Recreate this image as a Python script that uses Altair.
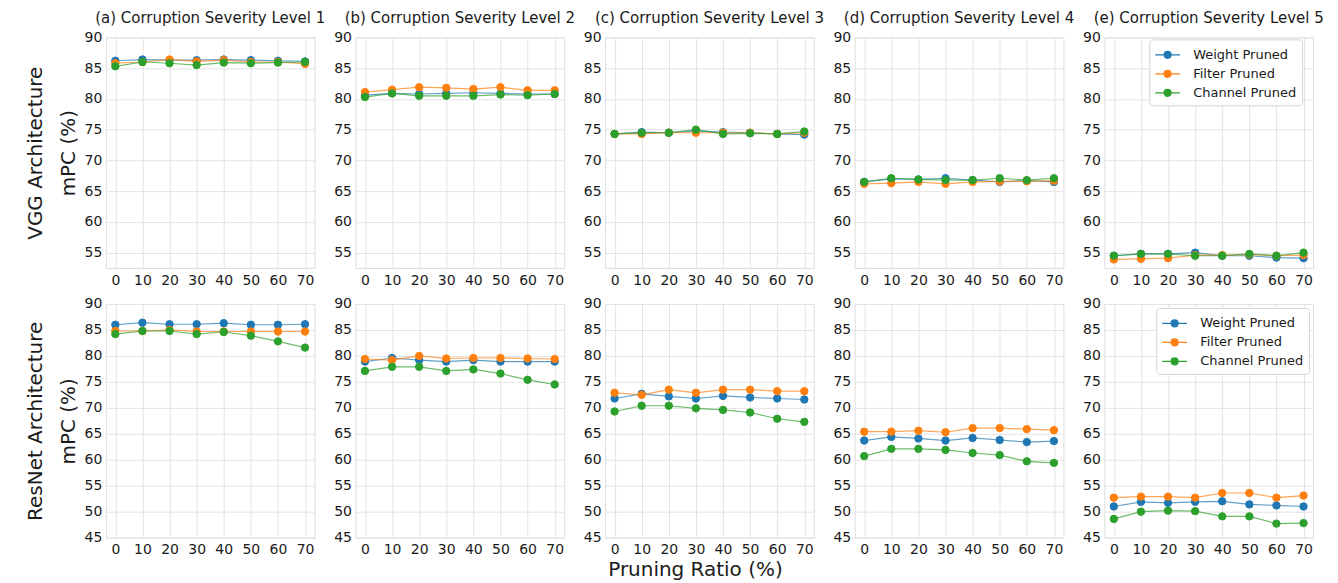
import altair as alt
import pandas as pd

ratios = [0, 10, 20, 30, 40, 50, 60, 70]
series = ["Weight Pruned", "Filter Pruned", "Channel Pruned"]
colors = ["#1f77b4", "#ff7f0e", "#2ca02c"]
levels = ["(a) Corruption Severity Level 1", "(b) Corruption Severity Level 2",
          "(c) Corruption Severity Level 3", "(d) Corruption Severity Level 4",
          "(e) Corruption Severity Level 5"]

# VGG architecture, one list per severity level
vgg_weight = [
    [86.2, 86.4, 86.3, 86.3, 86.4, 86.3, 86.2, 86.1],
    [80.6, 80.9, 80.8, 80.9, 81.0, 80.9, 80.8, 80.8],
    [74.3, 74.6, 74.5, 74.8, 74.6, 74.5, 74.3, 74.2],
    [66.5, 67.0, 66.9, 67.1, 66.8, 66.5, 66.7, 66.5],
    [54.5, 54.8, 54.8, 55.0, 54.5, 54.5, 54.2, 54.1],
]
vgg_filter = [
    [85.8, 86.0, 86.4, 86.1, 86.3, 86.0, 86.0, 85.7],
    [81.1, 81.5, 81.9, 81.8, 81.6, 81.9, 81.4, 81.4],
    [74.3, 74.3, 74.5, 74.5, 74.5, 74.5, 74.3, 74.5],
    [66.2, 66.3, 66.5, 66.2, 66.5, 66.6, 66.6, 66.7],
    [53.9, 54.0, 54.1, 54.6, 54.6, 54.7, 54.5, 54.6],
]
vgg_channel = [
    [85.3, 86.0, 85.8, 85.5, 85.9, 85.8, 85.9, 86.0],
    [80.3, 80.9, 80.5, 80.5, 80.5, 80.7, 80.6, 80.8],
    [74.3, 74.5, 74.5, 75.0, 74.3, 74.4, 74.3, 74.7],
    [66.5, 67.1, 66.9, 66.8, 66.8, 67.1, 66.8, 67.1],
    [54.5, 54.8, 54.8, 54.5, 54.5, 54.8, 54.5, 55.0],
]

# ResNet architecture, one list per severity level
resnet_weight = [
    [86.0, 86.4, 86.1, 86.1, 86.3, 86.0, 86.0, 86.1],
    [78.9, 79.6, 79.2, 78.9, 79.2, 78.9, 78.9, 78.9],
    [71.8, 72.7, 72.2, 71.8, 72.3, 72.0, 71.8, 71.6],
    [63.7, 64.4, 64.1, 63.7, 64.2, 63.8, 63.4, 63.6],
    [51.0, 51.9, 51.7, 51.9, 52.0, 51.4, 51.2, 51.0],
]
resnet_filter = [
    [84.8, 84.8, 85.0, 84.7, 84.7, 84.7, 84.7, 84.7],
    [79.4, 79.2, 80.0, 79.5, 79.6, 79.6, 79.5, 79.4],
    [72.9, 72.5, 73.5, 72.9, 73.5, 73.5, 73.2, 73.2],
    [65.4, 65.4, 65.6, 65.3, 66.1, 66.1, 65.9, 65.7],
    [52.7, 52.9, 52.9, 52.7, 53.6, 53.6, 52.7, 53.1],
]
resnet_channel = [
    [84.2, 84.8, 84.8, 84.2, 84.6, 83.9, 82.8, 81.6],
    [77.1, 77.9, 77.9, 77.1, 77.4, 76.6, 75.4, 74.5],
    [69.3, 70.4, 70.4, 69.9, 69.6, 69.1, 67.9, 67.3],
    [60.7, 62.1, 62.1, 61.9, 61.3, 60.9, 59.7, 59.4],
    [48.6, 50.0, 50.2, 50.1, 49.1, 49.1, 47.7, 47.8],
]

vgg_ticks = [55, 60, 65, 70, 75, 80, 85, 90]
resnet_ticks = [45, 50, 55, 60, 65, 70, 75, 80, 85, 90]

FONT = "DejaVu Sans"
TXT = "#1a1a1a"
GRID = "#e3e3e3"
S = alt.Scale(domain=series, range=colors)
LEGEND_PATH = ("M-1,0H-0.07M0.67,0H1.6"
               "M-0.07,0A0.37,0.37,0,1,1,0.67,0A0.37,0.37,0,1,1,-0.07,0Z")


def make_axis(values, title, **extra):
    kw = dict(values=values, grid=True, labelFontSize=14, labelFont=FONT,
              labelColor=TXT, domain=False, ticks=False, gridColor=GRID,
              labelFlush=False)
    kw.update(extra)
    if title:
        kw.update(title=title, titleFontSize=20, titleFont=FONT,
                  titleFontWeight="normal", titleColor=TXT)
    else:
        kw.update(title=None)
    return alt.Axis(**kw)


def panel(weight, filt, chan, i, ydom, yticks, ytitle, height, with_title,
          legend_xy, xtitle=None):
    rows = []
    for name, vals in zip(series, [weight[i], filt[i], chan[i]]):
        for r, v in zip(ratios, vals):
            rows.append({"ratio": r, "mpc": v, "series": name})
    df = pd.DataFrame(rows)
    if i == 4:
        leg = alt.Legend(orient="none", legendX=legend_xy[0], legendY=legend_xy[1],
                         title=None, symbolType=LEGEND_PATH,
                         symbolSize=361, symbolStrokeWidth=1.2, symbolOpacity=1,
                         labelFontSize=13, labelFont=FONT, labelColor=TXT,
                         fillColor="white", strokeColor="#d4d4d4", cornerRadius=3,
                         padding=5, rowPadding=1, labelOffset=18)
    else:
        leg = None
    if xtitle:
        xaxis = make_axis(ratios, xtitle, labelPadding=5, titleX=90, titlePadding=3)
    else:
        xaxis = make_axis(ratios, None, labelPadding=5)
    if ytitle:
        yaxis = make_axis(yticks, ytitle, labelPadding=4, titleLineHeight=33, titlePadding=6)
    else:
        yaxis = make_axis(yticks, None, labelPadding=4)
    x = alt.X("ratio:Q", scale=alt.Scale(domain=[-3.5, 73.5], nice=False, zero=False), axis=xaxis)
    y = alt.Y("mpc:Q", scale=alt.Scale(domain=ydom, nice=False, zero=False), axis=yaxis)
    base = alt.Chart(df)
    lines = base.mark_line(strokeWidth=1.2, opacity=0.7).encode(
        x=x, y=y, stroke=alt.Stroke("series:N", scale=S, legend=leg))
    pts = base.mark_point(filled=True, size=55, opacity=1, strokeWidth=1).encode(
        x=x, y=y,
        fill=alt.Fill("series:N", scale=S, legend=leg),
        stroke=alt.Stroke("series:N", scale=S, legend=leg))
    ch = alt.layer(lines, pts).properties(width=209, height=height)
    if with_title:
        ch = ch.properties(title=alt.TitleParams(levels[i], fontSize=15, font=FONT,
                                                 fontWeight="normal", color=TXT,
                                                 frame="group", offset=4))
    return ch


top = alt.hconcat(*[
    panel(vgg_weight, vgg_filter, vgg_channel, i, [52.5, 90], vgg_ticks,
          ["VGG Architecture", "mPC (%)"] if i == 0 else None, 231, True, (45, 2))
    for i in range(5)
], spacing=41, bounds="flush").resolve_legend(fill="independent", stroke="independent")

bottom = alt.hconcat(*[
    panel(resnet_weight, resnet_filter, resnet_channel, i, [45, 90], resnet_ticks,
          ["ResNet Architecture", "mPC (%)"] if i == 0 else None, 234, False, (52, 4),
          xtitle="Pruning Ratio (%)" if i == 2 else None)
    for i in range(5)
], spacing=41, bounds="flush").resolve_legend(fill="independent", stroke="independent")

chart = alt.vconcat(top, bottom, spacing=8).resolve_legend(
    fill="independent", stroke="independent"
).properties(
    padding={"left": 16, "top": 2, "right": 5, "bottom": 2}
).configure_view(stroke="#c4c4c4", strokeWidth=1).configure(font=FONT)

chart.save("out.html", embed_options={"renderer": "svg", "actions": False})
